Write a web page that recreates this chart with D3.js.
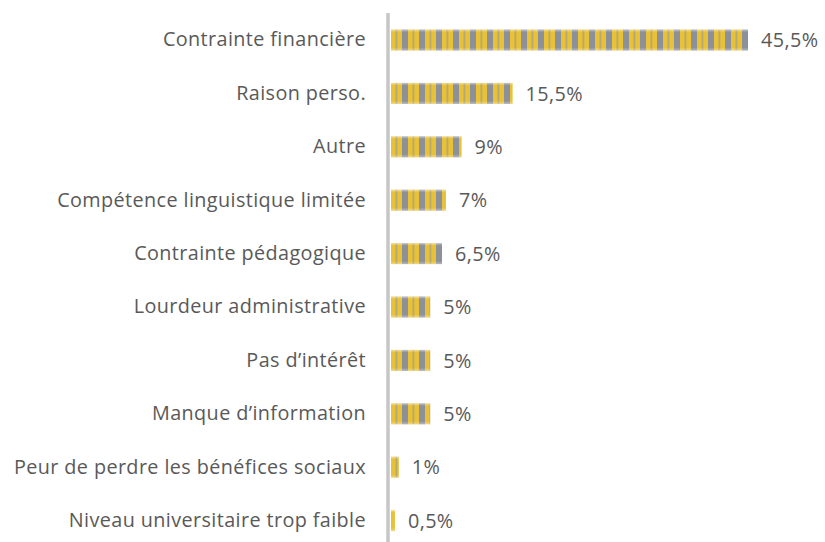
<!DOCTYPE html>
<html>
<head>
<meta charset="utf-8">
<script src="https://cdn.jsdelivr.net/npm/d3@7"></script>
<style>
  html, body { margin: 0; padding: 0; background: #ffffff; }
  svg { display: block; }
  text { font-family: "Open Sans", sans-serif; }
</style>
</head>
<body>
<svg id="chart" width="825" height="542"></svg>
<script>
const categories = [
  "Contrainte financière",
  "Raison perso.",
  "Autre",
  "Compétence linguistique limitée",
  "Contrainte pédagogique",
  "Lourdeur administrative",
  "Pas d’intérêt",
  "Manque d’information",
  "Peur de perdre les bénéfices sociaux",
  "Niveau universitaire trop faible"
];
const values = [45.5, 15.5, 9, 7, 6.5, 5, 5, 5, 1, 0.5];
const valueLabels = ["45,5%", "15,5%", "9%", "7%", "6,5%", "5%", "5%", "5%", "1%", "0,5%"];

const data = categories.map((c, i) => ({ cat: c, value: values[i], label: valueLabels[i] }));

const svg = d3.select("#chart");
const axisX = 388;
const barX0 = 391;
const fontSize = 19.8;
const spacing = 0.4;

const x = d3.scaleLinear().domain([0, 45.5]).range([barX0, 748]);
const y = d3.scaleBand()
  .domain(categories)
  .range([13.3, 547.3])
  .paddingInner(0.607)
  .paddingOuter(0.3035);

// striped fill: yellow and grey vertical bands
const defs = svg.append("defs");
const pat = defs.append("pattern")
  .attr("id", "stripes")
  .attr("patternUnits", "userSpaceOnUse")
  .attr("x", barX0)
  .attr("width", 17)
  .attr("height", 40);
pat.append("rect").attr("width", 17).attr("height", 40).attr("fill", "#8c9099");
pat.append("rect").attr("x", 0).attr("width", 4.8).attr("height", 40).attr("fill", "#e9c136");
pat.append("rect").attr("x", 4.8).attr("width", 1.4).attr("height", 40).attr("fill", "#b3a878");
pat.append("rect").attr("x", 6.2).attr("width", 4.8).attr("height", 40).attr("fill", "#e9c136");

// soft light edge at the top and bottom of each bar
const grad = defs.append("linearGradient")
  .attr("id", "edge")
  .attr("x1", 0).attr("x2", 0).attr("y1", 0).attr("y2", 1);
[[0, 0.5], [0.12, 0.0], [0.85, 0.0], [1, 0.35]].forEach(([o, a]) => {
  grad.append("stop").attr("offset", o).attr("stop-color", "#ffffff").attr("stop-opacity", a);
});

const rows = svg.append("g").selectAll("g.row").data(data).join("g").attr("class", "row");

rows.append("rect")
  .attr("x", barX0)
  .attr("y", d => y(d.cat))
  .attr("width", d => x(d.value) - barX0)
  .attr("height", y.bandwidth())
  .attr("fill", "url(#stripes)");

rows.append("rect")
  .attr("x", barX0)
  .attr("y", d => y(d.cat))
  .attr("width", d => x(d.value) - barX0)
  .attr("height", y.bandwidth())
  .attr("fill", "url(#edge)");

rows.append("text")
  .attr("x", d => x(d.value) + 13)
  .attr("y", d => y(d.cat) + y.bandwidth() / 2)
  .attr("dy", "0.36em")
  .attr("font-size", fontSize)
  .attr("letter-spacing", spacing)
  .attr("fill", "#595959")
  .text(d => d.label);

// category axis on the left
const yAxis = d3.axisLeft(y).tickSize(0).tickPadding(22);
const gAxis = svg.append("g")
  .attr("transform", `translate(${axisX},0)`)
  .call(yAxis);
gAxis.select(".domain").remove();
gAxis.selectAll("text")
  .attr("font-size", fontSize)
  .attr("letter-spacing", spacing)
  .attr("font-family", "'Open Sans', sans-serif")
  .attr("fill", "#595959");

svg.append("line")
  .attr("x1", axisX).attr("x2", axisX)
  .attr("y1", 13).attr("y2", 542)
  .attr("stroke", "#c6c6c6")
  .attr("stroke-width", 3.5);
</script>
</body>
</html>
